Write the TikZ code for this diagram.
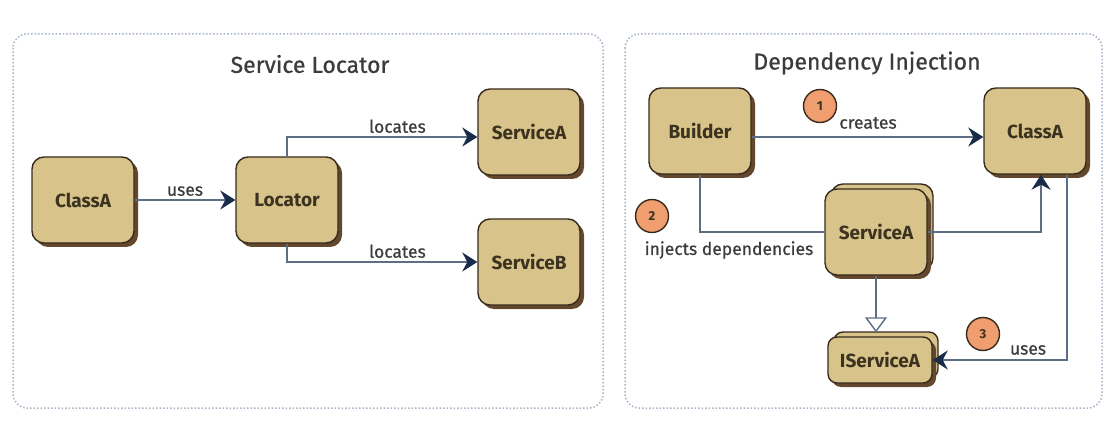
\documentclass[tikz,border=0pt]{standalone}
\usepackage{fontspec}
\setmainfont{Fira Sans}
\newfontfamily\labelfont{Fira Sans}[FakeBold=0.7]
\usepackage{tikz}
\usetikzlibrary{arrows.meta,positioning,shadows}
\definecolor{boxtan}{RGB}{216,196,138}
\definecolor{boxedge}{RGB}{55,42,28}
\definecolor{shadowbrown}{RGB}{100,72,45}
\definecolor{linegray}{RGB}{95,110,135}
\definecolor{tipnavy}{RGB}{25,45,75}
\definecolor{frameblue}{RGB}{165,180,200}
\definecolor{badgeorange}{RGB}{240,158,112}
\definecolor{textdark}{RGB}{60,50,32}
\definecolor{labelgray}{RGB}{60,60,60}
\tikzset{
  % dotted frame round each half
  panel/.style={draw=frameblue, dotted, line width=1.5pt, rounded corners=14pt},
  paneltitle/.style={font=\labelfont\fontsize{23}{26}\selectfont, text=labelgray},
  % class boxes
  box/.style={
    draw=boxedge,
    line width=1.4pt,
    fill=boxtan,
    rounded corners=12pt,
    minimum width=102pt,
    minimum height=86pt,
    font=\fontsize{19}{21}\selectfont\bfseries,
    text=textdark,
    drop shadow={shadow xshift=4pt, shadow yshift=-4pt, fill=shadowbrown, opacity=1}
  },
  % box with a copy behind it
  stack/.style={
    copy shadow={shadow xshift=6pt, shadow yshift=5pt, draw=boxedge, fill=boxtan, line width=1.4pt},
    box
  },
  % numbered steps
  badge/.style={
    circle, draw=boxedge, line width=1.4pt, fill=badgeorange,
    minimum size=33pt, inner sep=0pt,
    font=\fontsize{13}{14}\selectfont\bfseries, text=textdark
  },
  % connectors
  link/.style={draw=linegray, line width=1.4pt},
  arr/.style={link, -{Stealth[length=15pt, width=19pt, inset=5pt, color=tipnavy]}},
  realize/.style={link, -{Triangle[open, length=15pt, width=22pt]}},
  lbl/.style={font=\labelfont\fontsize{17.5}{20}\selectfont, text=labelgray},
}

\begin{document}
\begin{tikzpicture}[x=1pt, y=-1pt]
    \useasboundingbox (0,0) rectangle (1115,427);

    % Frames and titles
    \draw[panel] (13,34) rectangle (603,408);
    \draw[panel] (625,34) rectangle (1102,408);
    \node[paneltitle] (slTitle) at (310,64) {Service Locator};
    \node[paneltitle] (diTitle) at (867,63) {Dependency Injection};

    % Service Locator
    \node[box] (slClassA) at (83,200) {ClassA};
    \node[box] (slLocator) at (287,200) {Locator};
    \node[box] (slServiceA) at (529,132) {ServiceA};
    \node[box] (slServiceB) at (529,262) {ServiceB};

    \draw[arr] (slClassA) -- node[lbl, above] {uses} (slLocator);
    \draw[arr] (slLocator.north) |- node[lbl, pos=0.79, above] {locates} ([yshift=-5pt]slServiceA.west);
    \draw[arr] (slLocator.south) |- node[lbl, pos=0.79, above] {locates} (slServiceB.west);

    % Dependency Injection
    \node[box] (diBuilder) at (700,131) {Builder};
    \node[box] (diClassA) at (1035,131) {ClassA};
    \node[stack] (diServiceA) at (876,232) {ServiceA};
    \node[stack, minimum height=46pt, minimum width=104pt, rounded corners=9pt] (diIService) at (880,360) {IServiceA};

    \draw[arr] ([yshift=-6pt]diBuilder.east) -- ([yshift=-6pt]diClassA.west);
    \draw[link] (diBuilder.south) |- (diServiceA.west);
    \draw[arr] (diServiceA.east) -| ([xshift=6pt]diClassA.south);
    \draw[realize] (diServiceA.south) -- ([yshift=4pt]diServiceA.south |- diIService.north);
    \draw[arr] ([xshift=32pt]diClassA.south) |- (diIService.east);

    % Steps
    \node[badge] (stepOne) at (820,106) {1};
    \node[lbl] (createsLbl) at (868,123) {creates};
    \node[badge] (stepTwo) at (652,216) {2};
    \node[lbl] (injectsLbl) at (729,250) {injects dependencies};
    \node[badge] (stepThree) at (983,334) {3};
    \node[lbl] (usesLbl) at (1028,350) {uses};
\end{tikzpicture}
\end{document}
